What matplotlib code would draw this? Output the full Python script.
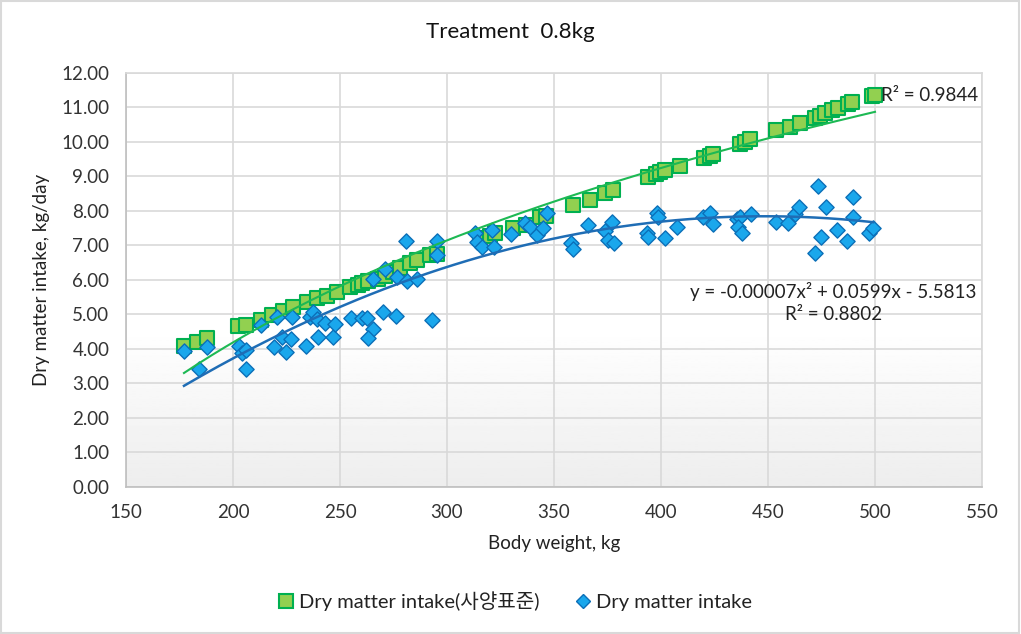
import numpy as np
import matplotlib
matplotlib.use("Agg")
import matplotlib.pyplot as plt
from matplotlib.lines import Line2D
from matplotlib.patches import Rectangle

plt.rcParams['font.family'] = ['Lato', 'Noto Sans CJK KR', 'DejaVu Sans']

# Dry matter intake (feeding standard), green squares
std_bw = [177.1, 183.2, 187.9, 202.3, 206.1, 213.1, 218.2, 223.4, 228.0, 234.6,
          239.3, 243.9, 248.6, 254.7, 258.4, 260.3, 263.1, 267.8, 271.0, 274.8,
          278.0, 282.7, 286.0, 292.1, 295.3, 315.4, 320.1, 322.4, 330.8, 336.9,
          343.5, 346.3, 358.9, 366.8, 373.8, 377.6, 393.9, 397.7, 399.5, 401.9,
          408.9, 420.1, 422.9, 424.3, 436.9, 439.3, 441.6, 453.7, 460.3, 464.9,
          472.0, 474.3, 476.6, 479.9, 482.7, 487.4, 489.3, 498.6, 500.0]
std_dmi = [4.10, 4.21, 4.31, 4.67, 4.70, 4.84, 4.99, 5.10, 5.22, 5.36,
           5.48, 5.54, 5.65, 5.80, 5.86, 5.91, 5.97, 6.03, 6.12, 6.23,
           6.35, 6.49, 6.58, 6.72, 6.75, 7.22, 7.28, 7.36, 7.51, 7.59,
           7.83, 7.86, 8.17, 8.32, 8.52, 8.61, 8.99, 9.07, 9.13, 9.19,
           9.30, 9.54, 9.59, 9.65, 9.94, 10.00, 10.09, 10.35, 10.43, 10.55,
           10.70, 10.75, 10.84, 10.93, 10.99, 11.10, 11.16, 11.33, 11.35]

# Observed dry matter intake, blue diamonds
obs_bw = [177.1, 184.1, 187.9, 202.8, 204.2, 206.1, 206.1, 213.1, 220.6, 227.6,
          219.2, 222.9, 227.1, 224.8, 234.1, 236.0, 237.4, 239.3, 239.7, 243.0,
          246.7, 247.7, 255.1, 260.3, 262.6, 265.4, 263.1, 270.1, 276.2, 293.0,
          265.4, 271.0, 276.6, 281.3, 286.0, 280.8, 295.3, 295.3, 313.1, 314.0,
          316.4, 321.0, 322.0, 329.9, 336.4, 338.8, 342.1, 346.7, 344.9, 358.0,
          358.9, 365.9, 373.8, 377.1, 375.2, 378.0, 393.5, 393.9, 398.1, 398.6,
          401.9, 407.5, 419.6, 422.9, 424.3, 435.5, 436.9, 436.0, 437.9, 442.1,
          453.7, 459.3, 462.6, 464.5, 473.4, 477.1, 472.0, 474.8, 482.2, 486.9,
          489.7, 489.7, 497.2, 499.1]
obs_dmi = [3.94, 3.42, 4.06, 4.09, 3.88, 3.97, 3.42, 4.70, 4.93, 4.93,
           4.06, 4.35, 4.29, 3.91, 4.09, 4.93, 5.07, 4.87, 4.35, 4.75,
           4.35, 4.72, 4.90, 4.90, 4.90, 4.58, 4.32, 5.07, 4.96, 4.84,
           6.03, 6.32, 6.09, 5.97, 6.03, 7.13, 7.13, 6.72, 7.36, 7.10,
           6.96, 7.45, 6.96, 7.33, 7.65, 7.54, 7.30, 7.94, 7.51, 7.07,
           6.90, 7.59, 7.42, 7.68, 7.16, 7.07, 7.36, 7.25, 7.94, 7.83,
           7.22, 7.54, 7.83, 7.94, 7.62, 7.77, 7.83, 7.54, 7.36, 7.91,
           7.68, 7.65, 7.91, 8.12, 8.72, 8.12, 6.78, 7.25, 7.45, 7.13,
           8.41, 7.83, 7.36, 7.51]

# trendlines: green logarithmic (a*ln(x)+b), blue polynomial
std_trend = [7.293, -34.45]
obs_trend = [-0.0000668, 0.0599, -5.5813]

fig = plt.figure(figsize=(10.21, 6.34), dpi=100)
ax = fig.add_axes([0.1234, 0.2319, 0.8384, 0.6530])

# plot area shading, white at top fading to light grey at the bottom
grad = np.ones((256, 1))
t = np.linspace(0, 1, 256)
grad[:, 0] = np.where(t < 0.62, 1.0, 1.0 - 0.07 * (t - 0.62) / 0.38)
ax.imshow(grad, extent=[0, 1, 0, 1], transform=ax.transAxes, cmap='gray',
          vmin=0, vmax=1, aspect='auto', zorder=0)

ax.scatter(std_bw, std_dmi, marker='s', s=100, facecolor='#92D050',
           edgecolor='#00B050', linewidth=1.5, zorder=3)
ax.scatter(obs_bw, obs_dmi, marker='D', s=60, facecolor='#1AA7EC',
           edgecolor='#0B6FB8', linewidth=1.0, zorder=4)

xs = np.linspace(min(std_bw), max(std_bw), 200)
ax.plot(xs, std_trend[0] * np.log(xs) + std_trend[1], color='#1DB954',
        linewidth=1.5, zorder=5)
xo = np.linspace(min(obs_bw), max(obs_bw), 200)
ax.plot(xo, np.polyval(obs_trend, xo), color='#1F6DB5', linewidth=1.8, zorder=5)

ax.set_xlim(150, 550)
ax.set_ylim(0, 12)
ax.set_xticks(np.arange(150, 551, 50))
ax.set_yticks(np.arange(0, 12.01, 1))
ax.set_yticklabels([f"{v:.2f}" for v in np.arange(0, 12.01, 1)])
ax.tick_params(length=0, labelsize=13.5, colors='#333333', pad=12)
ax.grid(True, color='#D9D9D9', linewidth=1.2, zorder=1)
ax.set_axisbelow(True)
for s in ax.spines.values():
    s.set_color('#D9D9D9')
    s.set_linewidth(1.2)
ax.spines['left'].set_color('#BFBFBF')
ax.spines['bottom'].set_color('#BFBFBF')

ax.set_xlabel("Body weight, kg", fontsize=13.5, color='#222222', labelpad=10)
ax.set_ylabel("Dry matter intake, kg/day", fontsize=13.5, color='#222222', labelpad=8)
fig.text(0.5, 1 - 32 / 634, "Treatment  0.8kg", ha='center', va='center',
         fontsize=16, color='#111111')

ax.text(503, 11.36, "R² = 0.9844", ha='left', va='center', fontsize=13.5, color='#222222')
ax.text(480.5, 5.68, "y = -0.00007x² + 0.0599x - 5.5813", ha='center', va='center',
        fontsize=13.5, color='#222222')
ax.text(480.5, 4.99, "R² = 0.8802", ha='center', va='center', fontsize=13.5, color='#222222')

handles = [
    Line2D([], [], linestyle='none', marker='s', markersize=10,
           markerfacecolor='#92D050', markeredgecolor='#00B050', markeredgewidth=1.5),
    Line2D([], [], linestyle='none', marker='D', markersize=7,
           markerfacecolor='#1AA7EC', markeredgecolor='#0B6FB8'),
]
fig.legend(handles, ["Dry matter intake(사양표준)", "Dry matter intake"],
           loc='center', bbox_to_anchor=(0.505, 1 - 601 / 634), ncol=2, frameon=False,
           fontsize=14.5, handlelength=0.7, handletextpad=0.3, columnspacing=1.8,
           labelcolor='#222222')

fig.patches.append(Rectangle((0.001, 0.002), 0.997, 0.996, transform=fig.transFigure,
                             fill=False, edgecolor='#D9D9D9', linewidth=1.5))

fig.savefig("out.png", dpi=100)
